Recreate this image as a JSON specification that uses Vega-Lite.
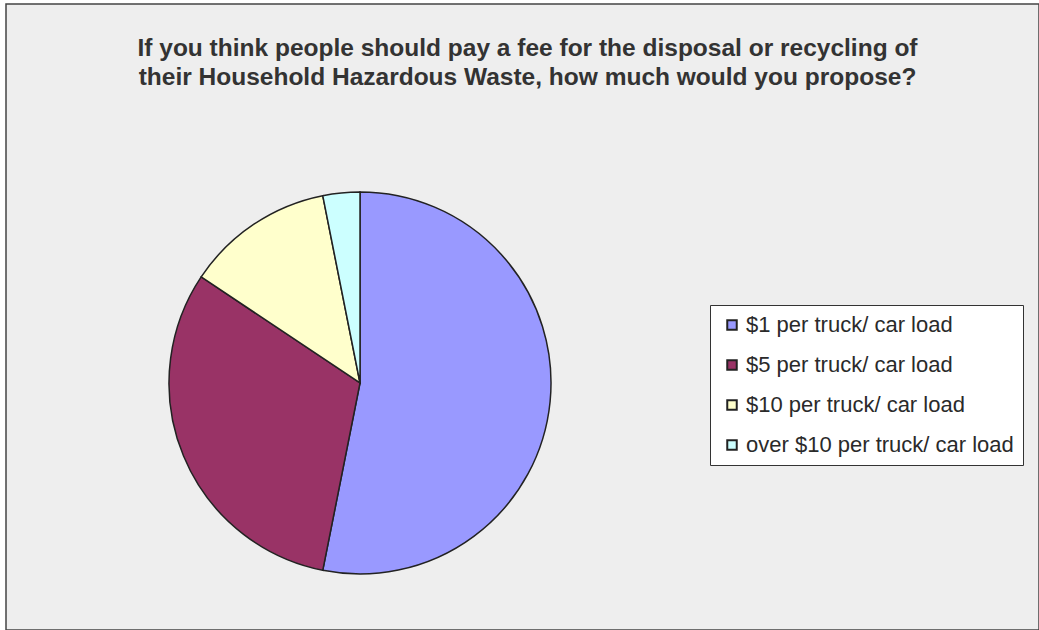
{
  "$schema": "https://vega.github.io/schema/vega-lite/v6.json",
  "width": 1033,
  "height": 626,
  "autosize": {"type": "none"},
  "padding": {"left": 6, "top": 4, "right": 0, "bottom": 0},
  "background": "white",
  "title": {
    "text": ["If you think people should pay a fee for the disposal or recycling of", "their Household Hazardous Waste, how much would you propose?"],
    "anchor": "middle",
    "frame": "group",
    "offset": -86,
    "font": "Liberation Sans",
    "fontSize": 24.5,
    "fontWeight": "bold",
    "lineHeight": 29,
    "color": "#333333",
    "dx": 5
  },
  "data": {
    "values": [
      {"category": "$1 per truck/ car load", "count": 17, "order": 1},
      {"category": "$5 per truck/ car load", "count": 10, "order": 2},
      {"category": "$10 per truck/ car load", "count": 4, "order": 3},
      {"category": "over $10 per truck/ car load", "count": 1, "order": 4}
    ]
  },
  "mark": {"type": "arc", "outerRadius": 191, "stroke": "#222222", "strokeWidth": 1.5},
  "encoding": {
    "theta": {"field": "count", "type": "quantitative", "stack": true},
    "order": {"field": "order", "type": "quantitative"},
    "x": {"datum": 0.3427, "type": "quantitative", "scale": {"domain": [0, 1]}, "axis": null},
    "y": {"datum": 0.3946, "type": "quantitative", "scale": {"domain": [0, 1]}, "axis": null},
    "color": {
      "field": "category",
      "type": "nominal",
      "sort": ["$1 per truck/ car load", "$5 per truck/ car load", "$10 per truck/ car load", "over $10 per truck/ car load"],
      "scale": {"range": ["#9999FF", "#993366", "#FFFFCC", "#CCFFFF"]},
      "legend": {
        "title": null,
        "orient": "none",
        "legendX": 704,
        "legendY": 301,
        "fillColor": "white",
        "strokeColor": "#333333",
        "padding": 9,
        "symbolType": "square",
        "symbolSize": 90,
        "symbolStrokeColor": "#222222",
        "symbolStrokeWidth": 2,
        "symbolOffset": 2,
        "labelFont": "Liberation Sans",
        "labelFontSize": 22,
        "labelColor": "#2a2a2a",
        "labelOffset": 3,
        "rowPadding": 18,
        "labelLimit": 400
      }
    }
  },
  "config": {
    "view": {"fill": "#EEEEEE", "stroke": "#444444", "strokeWidth": 1.5}
  }
}
